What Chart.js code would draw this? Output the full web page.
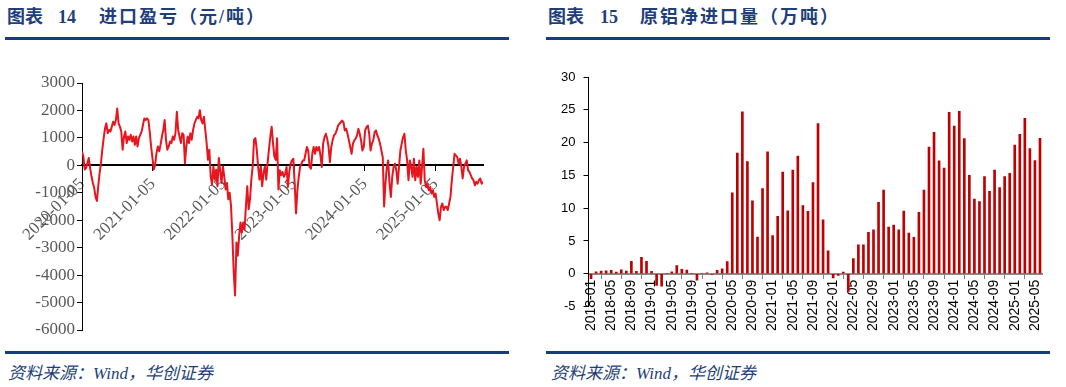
<!DOCTYPE html>
<html lang="zh-CN">
<head>
<meta charset="UTF-8">
<title>进口盈亏 / 原铝净进口量</title>
<script src="https://cdn.jsdelivr.net/npm/chart.js@4.4.1/dist/chart.umd.min.js"></script>
<style>
    html, body { margin: 0; padding: 0; background: #fff; }
    body { position: relative; width: 1066px; height: 387px; overflow: hidden; }
    .title {
        position: absolute; top: 6px; white-space: nowrap;
        font-family: "Liberation Serif", "Noto Sans CJK SC", serif;
        font-weight: bold; font-size: 18px; line-height: 22px; color: #1E3F7A;
    }
    .title.cn { letter-spacing: 2px; }
    .rule { position: absolute; height: 3px; background: #163E7A; }
    .source {
        position: absolute; top: 363px; white-space: nowrap;
        font-family: "Liberation Serif", "Noto Sans CJK SC", serif;
        font-style: italic; font-size: 17px; line-height: 22px; color: #1E3F7A;
    }
    canvas { position: absolute; top: 50px; }
</style>
</head>
<body>
    <div class="title" style="left:7px">图表</div>
    <div class="title" style="left:58px">14</div>
    <div class="title cn" style="left:99px">进口盈亏（元/吨）</div>
    <div class="rule" style="left:5px; width:504px; top:37px"></div>
    <canvas id="profitChart" width="530" height="300" style="left:0"></canvas>
    <div class="rule" style="left:5px; width:504px; top:351px"></div>
    <div class="source" style="left:8px">资料来源：Wind，华创证券</div>

    <div class="title" style="left:548px">图表</div>
    <div class="title" style="left:600px">15</div>
    <div class="title cn" style="left:640px">原铝净进口量（万吨）</div>
    <div class="rule" style="left:546px; width:504px; top:37px"></div>
    <canvas id="importChart" width="533" height="300" style="left:533px"></canvas>
    <div class="rule" style="left:546px; width:504px; top:351px"></div>
    <div class="source" style="left:551px">资料来源：Wind，华创证券</div>

<script>
// ==========================================
// DADOS: importação - lucro/prejuízo (元/吨), semanal
// ==========================================
const profitStart = '2020-01-05';
const profitStepDays = 7;
const profit = [
    500, 330, -150, -100, 80, 270, -100, -400, -640, -820, -1150, -1300, -760, -280, 80,
    570, 990, 1350, 1530, 1170, 1290, 1230, 1410, 1590, 1470, 1650, 2070, 1530, 1410, 1230,
    570, 1050, 1230, 810, 1050, 930, 1110, 870, 1050, 750, 1050, 690, 990, 1110, 1230,
    1470, 1710, 1650, 1710, 1650, 1230, 690, 270, -150, 20, 450, 690, 510, 750, 1050,
    1290, 1650, 930, 570, 690, 870, 810, 1050, 930, 1170, 1950, 1290, 1050, 810, 1170,
    1110, 80, 690, 1050, 810, 1170, 930, 1290, 1530, 1650, 1770, 1710, 2010, 1650, 1530,
    1770, 1290, 810, 200, 570, -400, -700, -40, -520, -160, -760, 270, -220, -640, -40,
    -400, -880, -640, -1240, -1000, -1480, -2570, -3890, -4740, -2810, -3290, -2570, -2080, -2450, -2080,
    -2330, -1480, -760, -1600, -1240, -520, -40, 930, 990, 570, -40, -520, -40, -760, -280,
    -40, -520, 80, 570, 1050, 1410, 810, 330, 200, 990, -880,
    -180, -360, -240, -420, -300, -60, -790, -240, 60, 180, 240, -670, -1750, -910, -420,
    -60, 60, 180, 180, 420, 670, 540, -60, -120, 420, 670, 420, 670, 540, 670,
    360, -60, 790, 1030, 1150, 970, 670, 120, 670, 910, 1090, 1150, 1270, 1450, 1510,
    1570, 1630, 1570, 1270, 1330, 1150, 910, 670, 420, 790, 910, 970, 1090, 1330, 1150,
    910, 540, 670, 1270, 1390, 1450, 1150, 540, 790, 910, 1210, 1270, 1090, 970, 790,
    540, 300, -1500, -670, -60, 180, -670, -1150, -420, -60, 60, -180, -670, -60, 540,
    790, 1030, 1150, 540, 180, -540, 180, -60, -420, 240, -540, -60, -420, 180, -670,
    -60, 600, -540, -790, -670, -910, -790, -1030, -910, -1150, -1030, -1390, -1750, -2000, -1510,
    -1390, -1630, -1510, -1510, -1630, -1390, -1150, -540, -60, 420, 360, 300, 60, 240, -60,
    -480, -60, 60, 180, -180, -240, -360, -480, -540, -730, -600, -670, -540, -480, -670,
    -600
];
const profitTicks = ['2020-01-05', '2021-01-05', '2022-01-05', '2023-01-05', '2024-01-05', '2025-01-05'];

// ==========================================
// DADOS: 原铝净进口量 (万吨), mensal
// ==========================================
const importStartYear = 2018;
const importStartMonth = 1;
const netImport = [
    -0.75, 0.3, 0.4, 0.45, 0.5, 0.25, 0.6, 0.4, 1.9, 0.35, 2.5, 1.9,
    0.35, -1.8, -1.9, 0, 0.3, 1.25, 0.65, 0.55, 0, -1.0, 0, 0.15,
    -0.1, 0.5, 0.75, 1.85, 12.35, 18.4, 24.7, 17.1, 11.1, 5.6, 13.0, 18.6,
    5.8, 8.75, 15.5, 9.6, 15.8, 17.95, 10.4, 9.5, 13.9, 22.9, 8.2, 3.5,
    -0.65, -0.25, 0.25, -2.7, 2.3, 4.4, 4.4, 6.3, 6.7, 10.9, 12.75, 7.1,
    7.4, 6.7, 9.55, 6.2, 5.55, 9.35, 12.75, 19.3, 21.55, 17.2, 16.1, 24.6,
    22.5, 24.75, 20.6, 15.0, 11.4, 11.0, 14.8, 12.55, 15.8, 13.15, 14.8, 15.3,
    19.6, 21.25, 23.7, 19.1, 17.25, 20.65
];
const importLabelEvery = 4;

document.addEventListener("DOMContentLoaded", () => {

    Chart.defaults.font.family = "'Liberation Sans', Arial, sans-serif";

    // ==========================================
    // 1. GRÁFICO 14 - 进口盈亏
    // ==========================================
    const DAY = 86400000;
    const t0 = Date.parse(profitStart);
    const dayOf = (s) => Math.round((Date.parse(s) - t0) / DAY);
    const profitPoints = profit.map((v, i) => ({ x: i * profitStepDays, y: v }));
    const serif = { family: "'Liberation Serif', 'Times New Roman', serif", size: 17 };

    new Chart(document.getElementById('profitChart'), {
        type: 'line',
        data: {
            datasets: [{
                data: profitPoints,
                borderColor: '#E8141E',
                borderWidth: 2,
                borderJoinStyle: 'round',
                pointRadius: 0,
                tension: 0
            }]
        },
        options: {
            responsive: false,
            animation: false,
            devicePixelRatio: 1,
            layout: { padding: { top: 33, right: 47, bottom: 20, left: 0 } },
            plugins: { legend: { display: false }, tooltip: { enabled: false } },
            scales: {
                x: {
                    type: 'linear',
                    position: { y: 0 },
                    z: 1,
                    min: 0,
                    max: (profit.length - 1) * profitStepDays,
                    afterBuildTicks: (s) => { s.ticks = profitTicks.map(d => ({ value: dayOf(d) })); },
                    afterFit: (s) => { s.paddingLeft = 0; s.paddingRight = 0; },
                    ticks: {
                        autoSkip: false,
                        minRotation: 45,
                        maxRotation: 45,
                        padding: 4,
                        color: '#595959',
                        font: serif,
                        callback: (v) => profitTicks.find(d => dayOf(d) === v)
                    },
                    grid: { drawOnChartArea: false, tickLength: 5, color: '#000' },
                    border: { color: '#000', width: 2 }
                },
                y: {
                    min: -6000,
                    max: 3000,
                    afterFit: (s) => { s.width = 82; },
                    ticks: {
                        stepSize: 1000,
                        padding: 2,
                        color: '#595959',
                        font: serif,
                        callback: (v) => String(v)
                    },
                    grid: { drawOnChartArea: false, tickLength: 5, color: '#000' },
                    border: { color: '#000', width: 1 }
                }
            }
        }
    });

    // ==========================================
    // 2. GRÁFICO 15 - 原铝净进口量
    // ==========================================
    const months = netImport.map((_, i) => {
        const m = importStartMonth - 1 + i;
        return (importStartYear + Math.floor(m / 12)) + '-' + String(m % 12 + 1).padStart(2, '0');
    });

    new Chart(document.getElementById('importChart'), {
        type: 'bar',
        data: {
            labels: months,
            datasets: [{
                data: netImport,
                backgroundColor: '#C00000',
                barThickness: 2
            }]
        },
        options: {
            responsive: false,
            animation: false,
            devicePixelRatio: 1,
            layout: { padding: { top: 27, right: 23.5, bottom: 43.5, left: 0 } },
            plugins: { legend: { display: false }, tooltip: { enabled: false } },
            scales: {
                x: {
                    position: { y: 0 },
                    afterFit: (s) => { s.paddingLeft = 0; s.paddingRight = 0; },
                    ticks: {
                        autoSkip: false,
                        minRotation: 90,
                        maxRotation: 90,
                        padding: 2,
                        color: '#000',
                        font: { size: 14 },
                        callback: (v, i) => (i % importLabelEvery === 0 ? months[i] : null)
                    },
                    grid: { drawOnChartArea: false, tickLength: 4, color: '#808080' },
                    border: { color: '#8c8c8c', width: 2 }
                },
                y: {
                    min: -5,
                    max: 30,
                    afterFit: (s) => { s.width = 55.5; },
                    ticks: { stepSize: 5, padding: 8, color: '#000', font: { size: 13 } },
                    grid: { drawOnChartArea: false, tickLength: 5, color: '#000' },
                    border: { color: '#000', width: 1 }
                }
            }
        }
    });
});
</script>
</body>
</html>
